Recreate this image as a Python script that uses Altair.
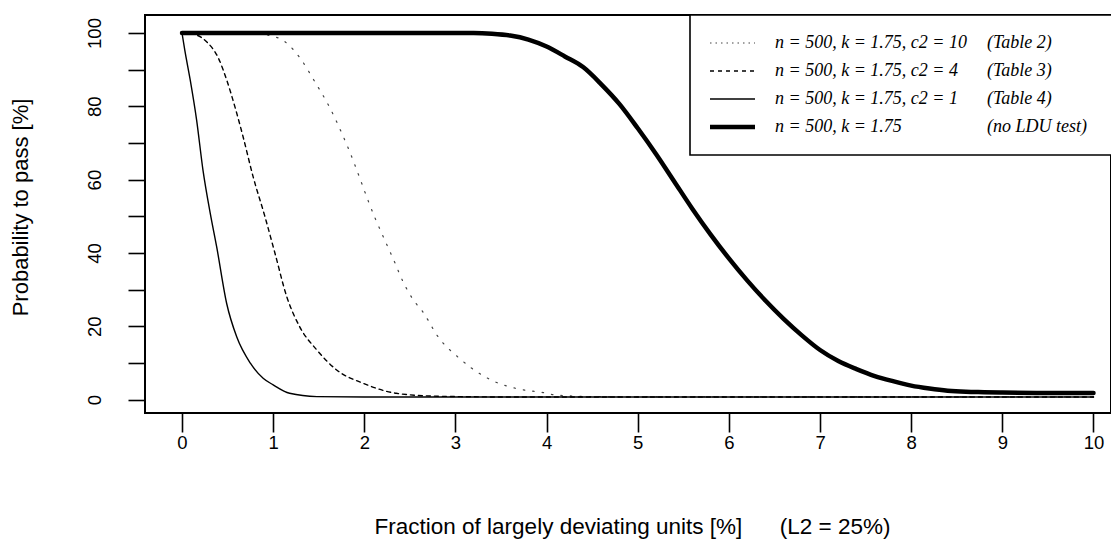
import altair as alt
import pandas as pd

# ---- data ----
# n = 500, k = 1.75 (no LDU test)  -- thick line
x_none = [0, 1, 2, 3, 3.2, 3.4, 3.6, 3.8, 4.0, 4.2, 4.4, 4.6, 4.8, 5.0, 5.2, 5.4, 5.6,
          5.8, 6.0, 6.2, 6.4, 6.6, 6.8, 7.0, 7.2, 7.4, 7.6, 7.8, 8.0, 8.2, 8.4, 8.6,
          8.8, 9.0, 9.5, 10]
y_none = [100, 100, 100, 100, 100, 99.8, 99.3, 98.2, 96.3, 93.6, 90.7, 86, 80.6, 74,
          67, 59.5, 52, 45, 38.5, 32.5, 27, 22, 17.5, 13.5, 10.5, 8.3, 6.4, 5.0, 3.8,
          3.0, 2.4, 2.1, 2.0, 1.9, 1.8, 1.8]

# c2 = 1 (Table 4) -- thin solid
x_c1 = [0, 0.03, 0.09, 0.16, 0.23, 0.31, 0.38, 0.49, 0.6, 0.75, 0.89, 1.0, 1.18,
        1.48, 2, 3, 4, 5, 6, 7, 8, 9, 10]
y_c1 = [100, 95.4, 87.2, 76.3, 62.6, 50.8, 41.7, 26.2, 17.1, 9.9, 5.8, 4.0, 1.7,
        0.8, 0.7, 0.7, 0.7, 0.7, 0.7, 0.7, 0.7, 0.7, 0.7]

# c2 = 4 (Table 3) -- dashed
x_c4 = [0, 0.15, 0.27, 0.4, 0.49, 0.58, 0.67, 0.78, 0.91, 1.02, 1.15, 1.29, 1.48,
        1.7, 1.99, 2.35, 2.8, 3.5, 4, 5, 6, 7, 8, 9, 10]
y_c4 = [100, 99.5, 97.6, 93.1, 87.2, 79.9, 71.7, 60.8, 49.9, 39.9, 28.0, 19.9, 13.5,
        8.0, 4.4, 1.7, 0.9, 0.7, 0.7, 0.7, 0.7, 0.7, 0.7, 0.7, 0.7]

# c2 = 10 (Table 2) -- dotted
x_c10 = [0, 0.8, 1.06, 1.3, 1.45, 1.62, 1.81, 2.12, 2.23, 2.32, 2.43, 2.54, 2.64,
         2.81, 3.05, 3.18, 3.41, 3.67, 3.96, 4.11, 4.5, 5, 6, 7, 8, 9, 10]
y_c10 = [100, 99.8, 98.6, 93, 87, 79.7, 69.4, 49.4, 43.2, 38.2, 31.9, 27.1, 24.0,
         17.1, 11.1, 8.5, 5.1, 3.0, 1.9, 1.2, 0.8, 0.7, 0.7, 0.7, 0.7, 0.7, 0.7]

series_names = ["c2 = 10", "c2 = 4", "c2 = 1", "none"]
legend_left = ["n = 500, k = 1.75, c2 = 10", "n = 500, k = 1.75, c2 = 4",
               "n = 500, k = 1.75, c2 = 1", "n = 500, k = 1.75"]
legend_right = ["(Table 2)", "(Table 3)", "(Table 4)", "(no LDU test)"]
x_ticks = [0, 1, 2, 3, 4, 5, 6, 7, 8, 9, 10]
y_ticks = [0, 10, 20, 30, 40, 50, 60, 70, 80, 90, 100]
x_title = "Fraction of largely deviating units [%]\u00a0\u00a0\u00a0\u00a0\u00a0\u00a0(L2 = 25%)"
y_title = "Probability to pass [%]"

# ---- build table ----
rows = []
for name, xs, ys in zip(series_names, [x_c10, x_c4, x_c1, x_none],
                        [y_c10, y_c4, y_c1, y_none]):
    for xv, yv in zip(xs, ys):
        rows.append({"series": name, "x": xv, "y": yv})
df = pd.DataFrame(rows)
leg = pd.DataFrame({"series": series_names, "left": legend_left, "right": legend_right})

W, H = 966, 398
xscale = alt.Scale(domain=[-0.406, 10.192], nice=False, zero=False)
yscale = alt.Scale(domain=[-3.68, 104.91], nice=False, zero=False)

xaxis = alt.Axis(values=x_ticks, format="d", title=x_title, domain=False, grid=False,
                 tickSize=19, tickWidth=1.6, tickColor="black",
                 labelFont="Liberation Sans", labelFontSize=18.5, labelColor="black",
                 labelPadding=1, labelFlush=False,
                 titleFont="Liberation Sans", titleFontSize=22.5, titleFontWeight="normal",
                 titleColor="black", titleX=487, titleY=113, titleAlign="center",
                 titleBaseline="middle")
yaxis = alt.Axis(values=y_ticks, title=y_title, domain=False, grid=False,
                 tickSize=17, tickWidth=1.6, tickColor="black",
                 labelExpr="datum.value % 20 == 0 ? datum.label : ''",
                 labelAngle=270, labelAlign="center", labelBaseline="alphabetic",
                 labelFont="Liberation Sans", labelFontSize=18.5, labelColor="black",
                 labelPadding=28, labelFlush=False,
                 titleFont="Liberation Sans", titleFontSize=22, titleFontWeight="normal",
                 titleColor="black", titleAngle=270, titleX=-125, titleY=192,
                 titleAlign="center", titleBaseline="middle")

base = alt.Chart(df)
styles = {
    "c2 = 10": dict(strokeWidth=1.2, strokeDash=[1.5, 8], color="#444"),
    "c2 = 4": dict(strokeWidth=1.4, strokeDash=[4, 4], color="black"),
    "c2 = 1": dict(strokeWidth=1.4, color="black"),
    "none": dict(strokeWidth=4.5, color="black"),
}
legend_styles = dict(styles)
legend_styles["c2 = 10"] = dict(strokeWidth=1.2, strokeDash=[1.5, 4], color="#444")

layers = []
for name in series_names:
    layers.append(
        base.transform_filter(alt.datum.series == name)
        .mark_line(interpolate="monotone", strokeCap="round", **styles[name])
        .encode(x=alt.X("x:Q", scale=xscale, axis=xaxis),
                y=alt.Y("y:Q", scale=yscale, axis=yaxis))
    )

# legend box
lchart = alt.Chart(leg)
layers.append(
    lchart.transform_filter(alt.datum.series == "none")
    .mark_rect(fill="white", stroke="black", strokeWidth=1.6)
    .encode(x=alt.value(545), x2=alt.value(990), y=alt.value(0), y2=alt.value(140))
)
row_y = [28, 56, 84, 112]
for i, name in enumerate(series_names):
    layers.append(
        lchart.transform_filter(alt.datum.series == name)
        .mark_rule(**legend_styles[name])
        .encode(x=alt.value(565), x2=alt.value(610), y=alt.value(row_y[i]))
    )
    layers.append(
        lchart.transform_filter(alt.datum.series == name)
        .mark_text(align="left", baseline="middle", font="Liberation Serif",
                   fontStyle="italic", fontSize=18, color="black")
        .encode(x=alt.value(630), y=alt.value(row_y[i]), text="left:N")
    )
    layers.append(
        lchart.transform_filter(alt.datum.series == name)
        .mark_text(align="left", baseline="middle", font="Liberation Serif",
                   fontStyle="italic", fontSize=18, color="black")
        .encode(x=alt.value(842), y=alt.value(row_y[i]), text="right:N")
    )

chart = (
    alt.layer(*layers)
    .properties(width=W, height=H,
                autosize=alt.AutoSizeParams(type="none"),
                padding={"left": 137, "top": 7, "right": 0, "bottom": 136},
                background="white")
    .configure_view(stroke="black", strokeWidth=2)
)

chart.save("out.html", embed_options={"renderer": "svg", "actions": False})
